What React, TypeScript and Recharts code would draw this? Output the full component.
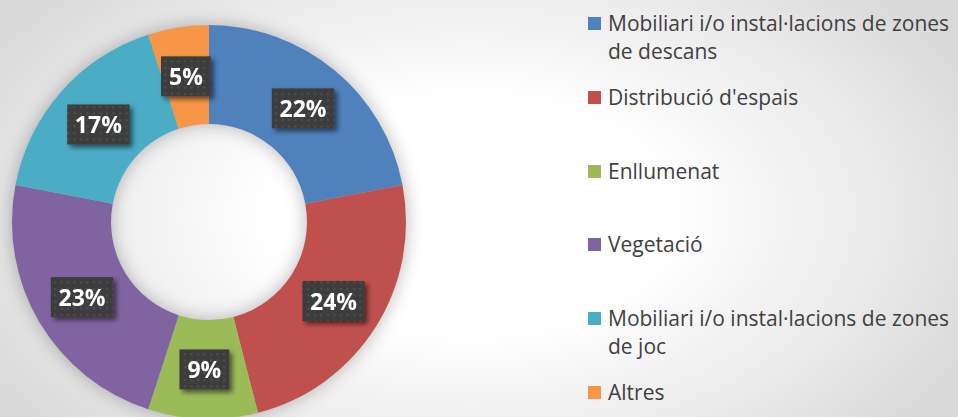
import React from "react";
import { PieChart, Pie, Cell, Legend } from "recharts";

const categories = [
  "Mobiliari i/o instal·lacions de zones de descans",
  "Distribució d'espais",
  "Enllumenat",
  "Vegetació",
  "Mobiliari i/o instal·lacions de zones de joc",
  "Altres",
];
const values = [22, 24, 9, 23, 17, 5];
const colors = ["#4F81BD", "#C0504D", "#9BBB59", "#8064A2", "#4BACC6", "#F79646"];
const shadowData = [{ name: "shadow", value: 100 }];

const data = categories.map((name, i) => ({ name, value: values[i] }));

const RADIAN = Math.PI / 180;

const renderLabel = (props: any) => {
  const { cx, cy, midAngle, innerRadius, outerRadius, value } = props;
  const r = (innerRadius + outerRadius) / 2;
  const x = cx + r * Math.cos(-midAngle * RADIAN);
  const y = cy + r * Math.sin(-midAngle * RADIAN);
  const text = `${value}%`;
  const digits = String(value).length;
  const w = 18 + digits * 12.6 + 19.2;
  const h = 40;
  return (
    <g filter="url(#labelShadow)">
      <rect x={x - w / 2} y={y - h / 2} width={w} height={h} fill="url(#dotPattern)" />
      <text
        x={x}
        y={y + 8.5}
        textAnchor="middle"
        fill="#ffffff"
        fontFamily="'Open Sans', sans-serif"
        fontWeight={700}
        fontSize={23}
      >
        {text}
      </text>
    </g>
  );
};

const renderLegend = () => (
  <div style={{ position: "relative", width: 370, height: 417 }}>
    {data.map((d, i) => {
      const top = 9 + i * 73.8;
      return (
        <div key={i} style={{ position: "absolute", left: 0, top, width: 370 }}>
          <div
            style={{
              position: "absolute",
              left: 0,
              top: 8,
              width: 13,
              height: 13,
              background: colors[i],
            }}
          />
          <div
            style={{
              position: "absolute",
              left: 20,
              top: 0,
              width: 350,
              fontFamily: "'Open Sans', sans-serif",
              fontSize: 21,
              lineHeight: "28px",
              color: "#404040",
            }}
          >
            {d.name}
          </div>
        </div>
      );
    })}
  </div>
);

export default function App() {
  return (
    <div
      style={{
        position: "absolute",
        left: 0,
        top: 0,
        width: 958,
        height: 417,
        overflow: "hidden",
        background:
          "radial-gradient(ellipse 560px 330px at 470px 215px, #ffffff 0%, #ffffff 35%, #ececec 70%, #d9d9d9 100%)",
      }}
    >
      <svg width={0} height={0} style={{ position: "absolute" }}>
        <defs>
          <filter id="donutShadow" x="-30%" y="-30%" width="160%" height="160%">
            <feGaussianBlur stdDeviation="9" />
          </filter>
          <filter id="labelShadow" x="-30%" y="-30%" width="160%" height="160%">
            <feDropShadow dx="3" dy="3" stdDeviation="2.5" floodColor="#000" floodOpacity="0.55" />
          </filter>
          <pattern id="dotPattern" x="0" y="0" width="6.5" height="6.5" patternUnits="userSpaceOnUse">
            <rect x="0" y="0" width="6.5" height="6.5" fill="#3c3c3c" />
            <rect x="2" y="2" width="2" height="2" fill="#525252" />
          </pattern>
        </defs>
      </svg>
      <PieChart width={958} height={417} margin={{ top: 0, right: 0, bottom: 0, left: 0 }}>
        <Pie
          data={shadowData}
          dataKey="value"
          cx={209}
          cy={222}
          innerRadius={98}
          outerRadius={197}
          startAngle={90}
          endAngle={-270}
          stroke="none"
          isAnimationActive={false}
          legendType="none"
        >
          <Cell fill="#000000" fillOpacity={0.28} filter="url(#donutShadow)" />
        </Pie>
        <Pie
          data={data}
          dataKey="value"
          nameKey="name"
          cx={209}
          cy={222}
          innerRadius={98}
          outerRadius={197}
          startAngle={90}
          endAngle={-270}
          stroke="none"
          label={renderLabel}
          labelLine={false}
          isAnimationActive={false}
        >
          {data.map((d, i) => (
            <Cell key={i} fill={colors[i]} />
          ))}
        </Pie>
        <Legend
          layout="vertical"
          align="right"
          verticalAlign="top"
          content={renderLegend}
          wrapperStyle={{ left: 588, top: 0, width: 370, height: 417 }}
        />
      </PieChart>
    </div>
  );
}
